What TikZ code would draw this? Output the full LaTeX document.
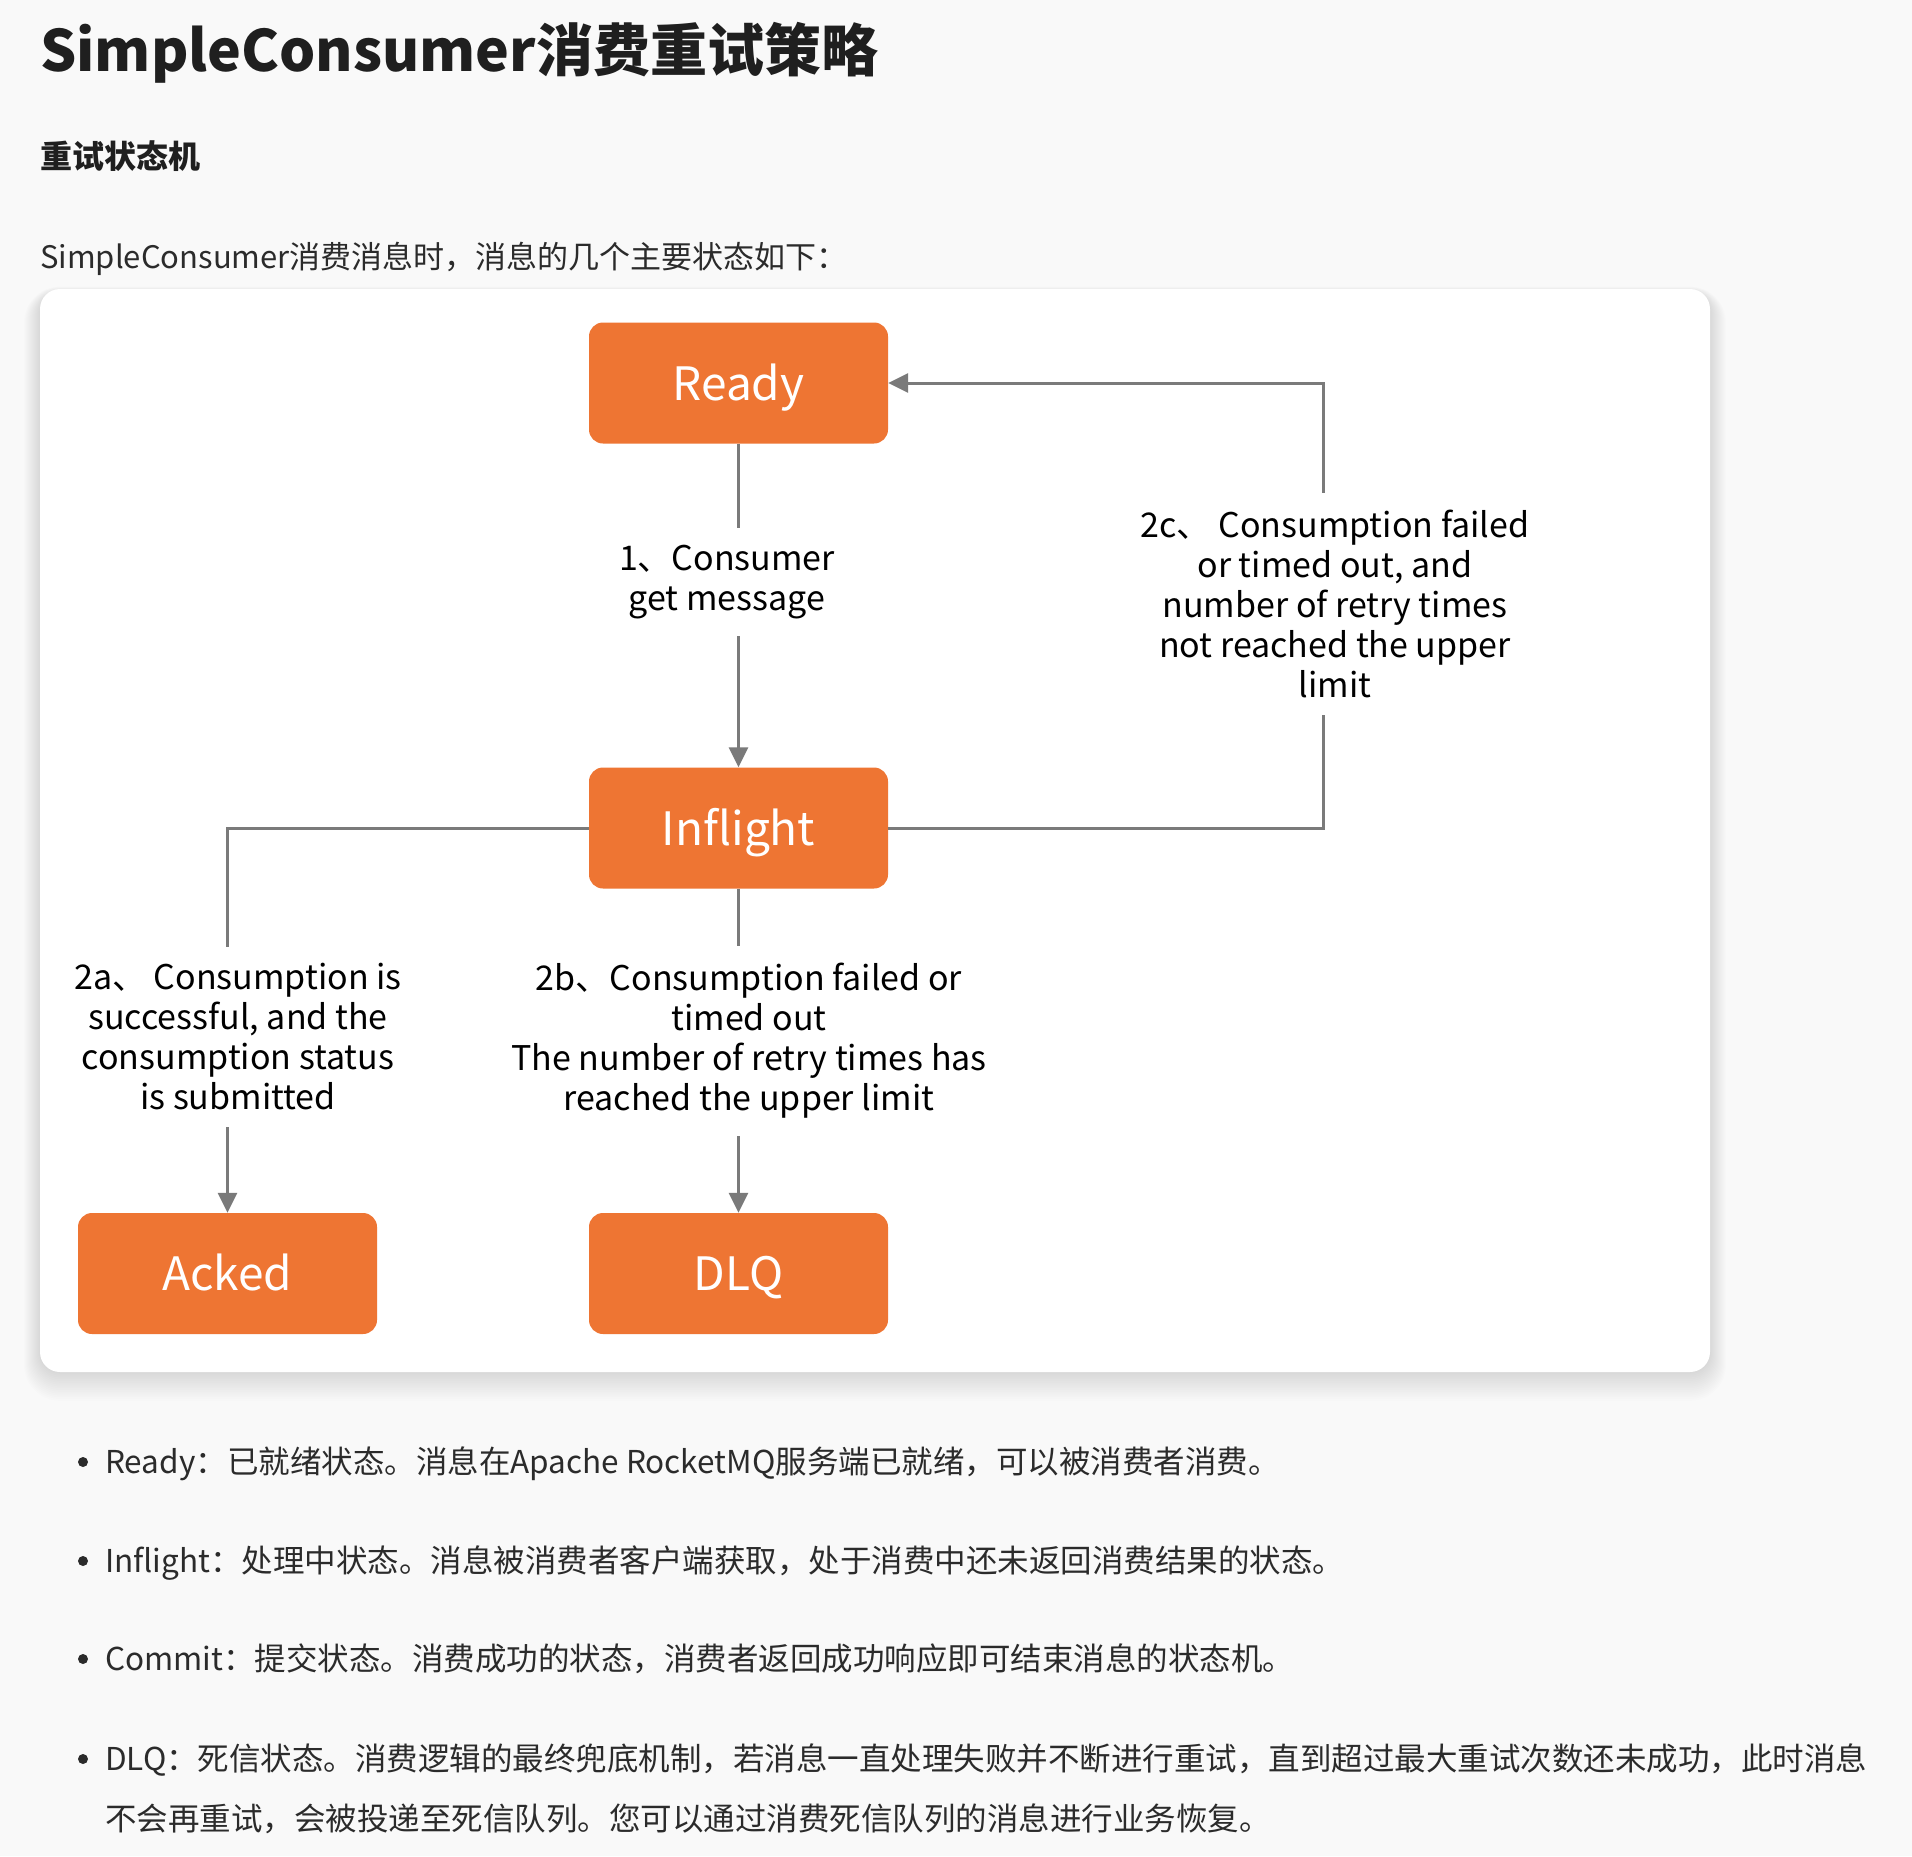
\documentclass[tikz,border=0pt]{standalone}
\usepackage{fontspec}
\setmainfont{Noto Sans CJK SC}
\usetikzlibrary{arrows.meta}
\definecolor{pagebg}{HTML}{F9F9F9}
\definecolor{stateorange}{HTML}{EE7533}
\definecolor{linegray}{HTML}{7A7A7A}
\definecolor{ink}{HTML}{1F1F1F}
\definecolor{bodyink}{HTML}{2B2B2B}
\begin{document}
\begin{tikzpicture}[x=1pt,y=-1pt,
  state/.style={fill=stateorange, rounded corners=14pt, minimum width=299pt, minimum height=121pt,
    text=white, font=\fontsize{46}{50}\selectfont, inner sep=0pt, text height=34pt, text depth=0pt},
  conn/.style={draw=linegray, line width=3pt},
  tip/.style={-{Triangle[width=19pt,length=20pt]}},
  lbl/.style={fill=white, align=center, font=\fontsize{34}{40}\selectfont, inner xsep=4pt, inner ysep=17pt, text=black},
  para/.style={anchor=base west, inner sep=0pt, text=bodyink, font=\fontsize{31.5}{36}\selectfont},
  dot/.style={circle, fill=bodyink, inner sep=0pt, minimum size=10pt}]
\useasboundingbox (0,0) rectangle (1912,1856);
\fill[pagebg] (0,0) rectangle (1912,1856);

% texts above the card
\node[anchor=base west, inner sep=0pt, text=ink, font=\fontsize{57}{66}\selectfont\bfseries] (title) at (40,71) {SimpleConsumer消费重试策略};
\node[anchor=base west, inner sep=0pt, text=ink, font=\fontsize{32}{36}\selectfont\bfseries] (sub) at (40,168) {重试状态机};
\node[para, font=\fontsize{31}{36}\selectfont] (intro) at (40,268) {SimpleConsumer消费消息时，消息的几个主要状态如下：};

% card shadow and card
\foreach \i in {1,...,16} {
  \pgfmathsetmacro\rr{20+\i}
  \fill[black, fill opacity=0.007, rounded corners=\rr pt] (40-\i,289-0.4*\i+4) rectangle (1710+\i,1372+1.8*\i);
}
\fill[white, rounded corners=20pt] (40,289) rectangle (1710,1372);

% states
\node[state] (ready) at (738.5,383) {Ready};
\node[state] (inflight) at (738.5,828) {Inflight};
\node[state] (acked) at (227.5,1273.5) {Acked};
\node[state] (dlq) at (738.5,1273.5) {DLQ};

% connectors
\coordinate (c2c) at (1323,0);
\draw[conn,tip] (ready) -- (inflight);
\draw[conn,tip] (inflight.east) -- (inflight.east -| c2c) -- (ready.east -| c2c) -- (ready.east);
\draw[conn,tip] (inflight.west) -| (acked.north);
\draw[conn,tip] (inflight) -- (dlq);

% connector labels
\node[lbl] (l1) at (727,582) {1、Consumer\\get message};
\node[lbl] (l2c) at (1335,604) {2c、 Consumption failed\\or timed out, and\\number of retry times\\not reached the upper\\limit};
\node[lbl] (l2a) at (238,1037) {2a、 Consumption is\\successful, and the\\consumption status\\is submitted};
\node[lbl] (l2b) at (749,1041) {2b、Consumption failed or\\timed out\\The number of retry times has\\reached the upper limit};

% bullet list
\node[dot] (d1) at (83,1462) {};
\node[para] (b1) at (105,1473) {Ready：已就绪状态。消息在Apache RocketMQ服务端已就绪，可以被消费者消费。};
\node[dot] (d2) at (83,1561) {};
\node[para] (b2) at (105,1572) {Inflight：处理中状态。消息被消费者客户端获取，处于消费中还未返回消费结果的状态。};
\node[dot] (d3) at (83,1659) {};
\node[para] (b3) at (105,1670) {Commit：提交状态。消费成功的状态，消费者返回成功响应即可结束消息的状态机。};
\node[dot] (d4) at (83,1759) {};
\node[para] (b4) at (105,1770) {DLQ：死信状态。消费逻辑的最终兜底机制，若消息一直处理失败并不断进行重试，直到超过最大重试次数还未成功，此时消息};
\node[para] (b5) at (105,1830) {不会再重试，会被投递至死信队列。您可以通过消费死信队列的消息进行业务恢复。};
\end{tikzpicture}
\end{document}
